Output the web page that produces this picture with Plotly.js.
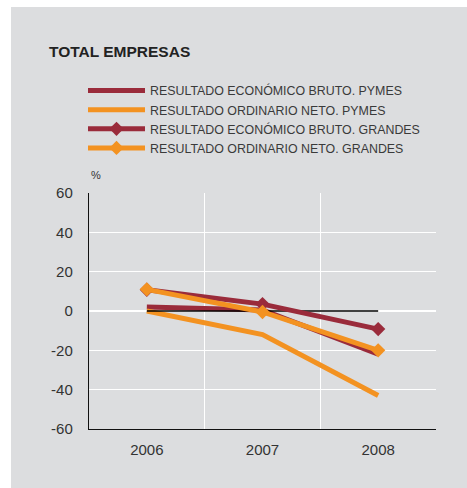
<!DOCTYPE html>
<html>
<head>
<meta charset="utf-8">
<script src="https://cdn.plot.ly/plotly-3.0.1.min.js"></script>
<style>
  html, body { margin: 0; padding: 0; background: #ffffff; }
  #chart { position: absolute; left: 11px; top: 7px; width: 456px; height: 481px; }
</style>
</head>
<body>
<div id="chart"></div>
<script>
// ---- Data ----
const years = ['2006', '2007', '2008'];
const seriesNames = [
  'RESULTADO ECONÓMICO BRUTO. PYMES',
  'RESULTADO ORDINARIO NETO. PYMES',
  'RESULTADO ECONÓMICO BRUTO. GRANDES',
  'RESULTADO ORDINARIO NETO. GRANDES'
];
const ebPymes = [2, 0.5, -22];
const ronPymes = [0, -12, -43];
const ebGrandes = [10.8, 3.5, -9.2];
const ronGrandes = [11, -0.5, -20];
const baseline = [0, 0, 0];
const yTicks = [-60, -40, -20, 0, 20, 40, 60];
const yTickText = yTicks.map(String);

// ---- Styles ----
const RED = '#9a2b3b';
const ORANGE = '#f39221';
const BG = '#dcdddf';
const FONT = 'Liberation Sans, Arial, Helvetica, sans-serif';
const idx = years.map((_, i) => i);

function lineTrace(name, y, color, withMarker) {
  const t = {
    type: 'scatter',
    mode: withMarker ? 'lines+markers' : 'lines',
    name: name,
    x: idx,
    y: y,
    line: { color: color, width: 5 },
    hoverinfo: 'skip'
  };
  if (withMarker) t.marker = { symbol: 'diamond', size: 11, color: color };
  return t;
}

const traces = [
  lineTrace(seriesNames[0], ebPymes, RED, false),
  lineTrace(seriesNames[1], ronPymes, ORANGE, false),
  {
    type: 'scatter', mode: 'lines', x: idx, y: baseline,
    line: { color: '#000000', width: 1.6 }, showlegend: false, hoverinfo: 'skip'
  },
  lineTrace(seriesNames[2], ebGrandes, RED, true),
  lineTrace(seriesNames[3], ronGrandes, ORANGE, true),
  {
    type: 'scatter', mode: 'markers', x: [0], y: [0], xaxis: 'x2',
    marker: { opacity: 0, size: 1 }, showlegend: false, hoverinfo: 'skip'
  }
];

const layout = {
  width: 456,
  height: 481,
  paper_bgcolor: BG,
  plot_bgcolor: BG,
  margin: { l: 78, r: 31, t: 186, b: 59, autoexpand: false },
  font: { family: FONT, color: '#333333', size: 12 },
  title: {
    text: 'TOTAL EMPRESAS',
    font: { family: FONT, size: 15.5, color: '#222222', weight: 'bold' },
    xref: 'container', x: 38 / 456, xanchor: 'left',
    yref: 'container', y: 1 - 44.7 / 481, yanchor: 'middle'
  },
  showlegend: true,
  legend: {
    orientation: 'v',
    xref: 'container', x: 72 / 456, xanchor: 'left',
    yref: 'container', y: 1 - 69 / 481, yanchor: 'top',
    bgcolor: 'rgba(0,0,0,0)',
    font: { family: FONT, size: 12.4, color: '#3a3a3a' },
    itemwidth: 57,
    tracegroupgap: 0,
    traceorder: 'normal'
  },
  xaxis: {
    range: [-0.5, 2.5],
    tickmode: 'array',
    tickvals: idx,
    ticktext: years,
    ticks: '',
    showgrid: false,
    zeroline: false,
    showline: true,
    linecolor: '#111111',
    linewidth: 1.2,
    tickfont: { family: FONT, size: 15, color: '#333333' },
    ticklabelstandoff: 7,
    tickangle: 0,
    fixedrange: true
  },
  xaxis2: {
    overlaying: 'x',
    range: [-0.5, 2.5],
    tickmode: 'array',
    tickvals: [0.5, 1.5, 2.5],
    showticklabels: false,
    ticks: '',
    showgrid: true,
    gridcolor: '#ffffff',
    gridwidth: 1.5,
    zeroline: false,
    showline: false,
    layer: 'below traces'
  },
  yaxis: {
    range: [-60, 60],
    tickmode: 'array',
    tickvals: yTicks,
    ticktext: yTickText,
    ticks: '',
    showgrid: true,
    gridcolor: '#ffffff',
    gridwidth: 1.5,
    zeroline: false,
    showline: true,
    linecolor: '#111111',
    linewidth: 1.2,
    tickfont: { family: FONT, size: 15, color: '#333333' },
    ticklabelstandoff: 12,
    fixedrange: true
  },
  annotations: [
    {
      text: '%', xref: 'paper', yref: 'paper',
      x: 6.7 / 347, y: 1 + 18 / 236, xanchor: 'center', yanchor: 'middle',
      showarrow: false, font: { family: FONT, size: 11, color: '#333333' }
    }
  ]
};

Plotly.newPlot('chart', traces, layout, { displayModeBar: false, staticPlot: true });
</script>
</body>
</html>
